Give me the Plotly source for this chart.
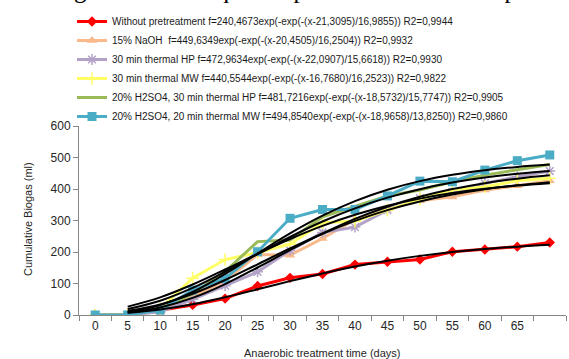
import math
import plotly.graph_objects as go

days = [0, 5, 10, 15, 20, 25, 30, 35, 40, 45, 50, 55, 60, 65, 70]
tick_days = [0, 5, 10, 15, 20, 25, 30, 35, 40, 45, 50, 55, 60, 65]
tick_labels = ["0", "5", "10", "15", "20", "25", "30", "35", "40", "45", "50", "55", "60", "65"]

without = [0, 0, 15, 32, 52, 92, 118, 130, 160, 169, 176, 201, 208, 217, 230]
naoh = [0, 0, 12, 58, 108, 192, 190, 243, 303, 336, 363, 375, 397, 410, 426]
thermal_hp = [0, 0, 10, 50, 93, 137, 205, 262, 279, 333, 371, 391, 418, 439, 457]
thermal_mw = [0, 0, 20, 117, 176, 198, 225, 293, 298, 333, 368, 397, 407, 426, 434]
h2so4_hp = [0, 0, 18, 68, 138, 233, 238, 312, 345, 378, 397, 423, 444, 460, 478]
h2so4_mw = [0, 0, 16, 79, 116, 201, 307, 335, 335, 378, 425, 423, 460, 490, 508]

names = [
    "Without pretreatment f=240,4673exp(-exp(-(x-21,3095)/16,9855)) R2=0,9944",
    "15% NaOH  f=449,6349exp(-exp(-(x-20,4505)/16,2504)) R2=0,9932",
    "30 min thermal HP f=472,9634exp(-exp(-(x-22,0907)/15,6618)) R2=0,9930",
    "30 min thermal MW f=440,5544exp(-exp(-(x-16,7680)/16,2523)) R2=0,9822",
    "20% H2SO4, 30 min thermal HP f=481,7216exp(-exp(-(x-18,5732)/15,7747)) R2=0,9905",
    "20% H2SO4, 20 min thermal MW f=494,8540exp(-exp(-(x-18,9658)/13,8250)) R2=0,9860",
]

# Gompertz fit parameters shown in the legend (A, xc, k)
fit_A = [240.4673, 449.6349, 472.9634, 440.5544, 481.7216, 494.8540]
fit_xc = [21.3095, 20.4505, 22.0907, 16.7680, 18.5732, 18.9658]
fit_k = [16.9855, 16.2504, 15.6618, 16.2523, 15.7747, 13.8250]
# the fitted curves are evaluated at these times ...
fit_eval_days = [0, 5, 10, 15, 20, 25, 30, 35, 40, 45, 50, 55, 60, 65]
# ... and drawn on these categories (as in the original chart)
fit_plot_days = [5, 10, 15, 20, 25, 30, 35, 40, 45, 50, 55, 60, 65, 70]

series = [without, naoh, thermal_hp, thermal_mw, h2so4_hp, h2so4_mw]
colors = ["#FF0000", "#FAB98A", "#B3A2C7", "#FFFF66", "#9BBB59", "#4BACC6"]
markers = [
    dict(symbol="diamond", size=8),
    dict(symbol="triangle-up", size=9),
    dict(symbol="asterisk-open", size=9, line=dict(width=1.5)),
    dict(symbol="cross-thin-open", size=9, line=dict(width=1.5)),
    None,
    dict(symbol="square", size=9),
]

fig = go.Figure()
for vals, name, col, mk in zip(series, names, colors, markers):
    if mk is None:
        fig.add_trace(go.Scatter(x=days, y=vals, name=name, mode="lines",
                                 line=dict(color=col, width=3)))
    else:
        m = dict(mk)
        m["color"] = col
        if "line" in m:
            m["line"] = dict(m["line"], color=col)
        fig.add_trace(go.Scatter(x=days, y=vals, name=name, mode="lines+markers",
                                 line=dict(color=col, width=3), marker=m))

for A, xc, k in zip(fit_A, fit_xc, fit_k):
    fy = [A * math.exp(-math.exp(-(d - xc) / k)) for d in fit_eval_days]
    fig.add_trace(go.Scatter(x=fit_plot_days, y=fy, mode="lines", showlegend=False,
                             line=dict(color="black", width=2, shape="spline"),
                             hoverinfo="skip"))

axis_font = dict(family="Liberation Sans, Arial, sans-serif", size=12, color="#262626")

fig.update_layout(
    width=569, height=359,
    margin=dict(l=79, r=3, t=126, b=44, autoexpand=False),
    paper_bgcolor="white", plot_bgcolor="white",
    showlegend=True,
    legend=dict(
        x=72 / 569, xref="container", xanchor="left",
        y=1 - 7 / 359, yref="container", yanchor="top",
        font=dict(family="Liberation Sans, Arial, sans-serif", size=10, color="#1a1a1a"),
        bgcolor="rgba(0,0,0,0)", borderwidth=0,
        traceorder="normal",
    ),
    xaxis=dict(
        range=[-2.5, 72.5], tickmode="array", tickvals=tick_days, ticktext=tick_labels,
        ticks="", showgrid=False, zeroline=False,
        showline=True, linecolor="#868686", linewidth=1,
        tickfont=axis_font,
        minor=dict(tickmode="linear", tick0=-2.5, dtick=5, ticks="outside",
                   ticklen=5, tickcolor="#868686", tickwidth=1, showgrid=False),
    ),
    yaxis=dict(
        range=[0, 600], tickmode="linear", tick0=0, dtick=100,
        ticks="outside", ticklen=5, tickcolor="#868686",
        showgrid=False, zeroline=False,
        showline=True, linecolor="#868686", linewidth=1,
        tickfont=axis_font,
    ),
    annotations=[
        dict(text="Cumulative Biogas (ml)", xref="paper", yref="paper",
             x=(28 - 79) / 487, y=(315 - 219) / 189, textangle=-90,
             showarrow=False, xanchor="center", yanchor="middle",
             font=dict(family="Liberation Sans, Arial, sans-serif", size=11, color="#262626")),
        dict(text="Anaerobic treatment time (days)", xref="paper", yref="paper",
             x=(322 - 79) / 487, y=(315 - 353) / 189,
             showarrow=False, xanchor="center", yanchor="middle",
             font=dict(family="Liberation Sans, Arial, sans-serif", size=11, color="#262626")),
        dict(text="Biogas from the aqueous phase of the raw sample", xref="paper", yref="paper",
             x=(36 - 79) / 487, y=(315 - 5.0) / 189,
             showarrow=False, xanchor="left", yanchor="bottom",
             font=dict(family="Liberation Serif, Times New Roman, serif", size=25, color="black")),
    ],
)

fig.write_html("out.html")
